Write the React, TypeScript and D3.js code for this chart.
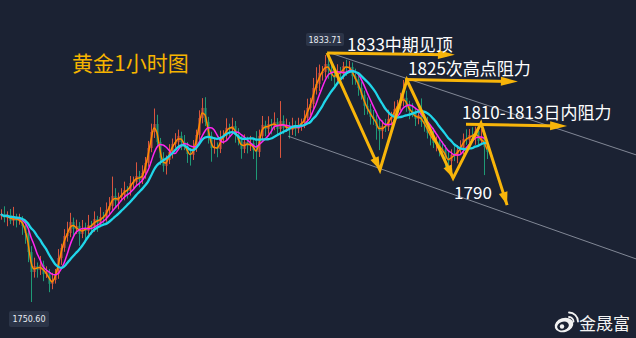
import React from "react";
import * as d3 from "d3";

const W = 636;
const H = 338;

// Hourly gold closes (USD/oz), oldest first
const closes = [
  1780.2, 1778.9, 1779.9, 1777.9, 1779.2, 1777.9, 1778.5, 1776.2, 1773.8, 1767.4,
  1760.7, 1762.7, 1761.4, 1763.1, 1760.0, 1760.7, 1756.7, 1758.0, 1760.0, 1765.4,
  1768.8, 1772.8, 1773.8, 1777.5, 1775.2, 1776.2, 1773.5, 1775.5, 1774.5, 1776.5,
  1775.8, 1778.5, 1777.2, 1779.2, 1778.9, 1781.6, 1782.9, 1786.3, 1784.6, 1785.9,
  1786.6, 1788.3, 1788.0, 1790.6, 1791.0, 1793.0, 1791.7, 1794.0, 1797.4, 1802.4,
  1807.8, 1810.5, 1804.4, 1799.1, 1796.4, 1798.4, 1801.1, 1803.8, 1804.4, 1806.5,
  1804.4, 1803.1, 1800.4, 1800.1, 1802.4, 1806.8, 1812.5, 1815.9, 1811.2, 1806.5,
  1802.4, 1802.8, 1802.1, 1805.8, 1806.5, 1809.2, 1808.8, 1809.8, 1806.8, 1805.1,
  1802.1, 1804.4, 1803.1, 1804.1, 1801.7, 1801.1, 1806.5, 1810.2, 1808.8, 1810.5,
  1809.8, 1811.2, 1808.8, 1811.5, 1809.2, 1809.8, 1808.5, 1809.8, 1808.8, 1810.2,
  1810.8, 1812.5, 1815.9, 1817.2, 1822.6, 1824.0, 1827.7, 1828.0, 1830.7, 1828.7,
  1827.0, 1826.0, 1828.0, 1827.3, 1830.0, 1829.3, 1829.7, 1826.6, 1825.6, 1822.6,
  1820.3, 1816.6, 1815.5, 1812.9, 1812.2, 1809.8, 1808.1, 1809.8, 1809.5, 1812.2,
  1812.9, 1815.5, 1816.6, 1818.2, 1819.3, 1816.6, 1814.9, 1814.2, 1812.2, 1813.5,
  1811.2, 1810.5, 1807.5, 1806.5, 1804.1, 1804.4, 1802.1, 1801.7, 1799.1, 1798.0,
  1800.1, 1799.7, 1801.7, 1802.4, 1805.5, 1805.1, 1806.8, 1806.1, 1808.1, 1804.8,
  1805.8, 1802.8, 1801.1,
];

// Shadow lengths above / below each candle body (USD)
const upperWicks = [
  1.6, 2.6, 1.2, 2.0, 3.4, 1.1, 1.8, 1.0, 1.5, 1.3,
  2.0, 2.8, 1.2, 3.0, 1.4, 1.9, 1.0, 2.4, 1.7, 3.0,
  1.4, 2.3, 3.8, 3.1, 1.5, 2.1, 1.3, 2.7, 1.8, 3.4,
  1.4, 2.6, 1.1, 3.3, 1.7, 2.5, 3.0, 6.5, 2.6, 1.5,
  2.3, 2.8, 1.3, 2.4, 1.8, 4.6, 1.7, 2.6, 2.0, 2.4,
  2.8, 5.2, 3.1, 1.4, 1.9, 1.5, 2.6, 1.8, 3.0, 2.1,
  1.4, 2.4, 1.3, 2.0, 2.7, 1.8, 2.6, 3.3, 3.6, 1.7,
  1.4, 2.9, 1.5, 2.5, 1.9, 3.2, 1.4, 2.8, 1.7, 2.3,
  1.3, 2.6, 1.8, 2.4, 1.4, 6.4, 2.1, 3.0, 1.4, 2.6,
  1.7, 3.2, 1.3, 6.7, 1.9, 2.5, 1.4, 2.8, 1.8, 2.4,
  1.5, 2.6, 3.1, 2.1, 3.4, 5.6, 2.8, 2.0, 3.0, 2.1,
  2.7, 1.9, 2.6, 1.7, 1.4, 2.1, 2.0, 1.5, 2.5, 1.7,
  2.1, 1.4, 2.8, 1.8, 2.3, 1.4, 2.6, 1.9, 2.4, 3.1,
  1.7, 2.6, 2.0, 2.8, 6.0, 2.4, 1.7, 2.6, 1.5, 2.1,
  5.6, 1.8, 2.4, 1.4, 2.7, 1.9, 1.4, 2.6, 1.7, 2.4,
  1.9, 2.9, 1.7, 2.6, 1.8, 3.2, 2.0, 2.6, 1.5, 2.1,
  3.0, 1.4, 1.7,
];
const lowerWicks = [
  1.2, 1.5, 2.8, 1.1, 1.6, 2.2, 1.3, 3.0, 3.6, 3.4,
  10.1, 1.9, 2.6, 1.7, 2.4, 1.3, 2.8, 1.8, 1.2, 1.6,
  2.3, 1.3, 1.9, 1.4, 2.9, 1.7, 4.0, 1.4, 3.2, 1.2,
  2.5, 1.6, 3.0, 1.4, 2.0, 1.3, 1.7, 1.4, 2.2, 2.8,
  1.4, 1.8, 2.6, 1.6, 2.3, 1.2, 2.5, 1.4, 1.9, 1.3,
  1.4, 2.0, 1.7, 2.4, 2.0, 2.9, 1.4, 2.2, 1.3, 1.8,
  2.7, 1.4, 3.0, 3.6, 1.7, 1.3, 1.6, 1.8, 1.4, 2.6,
  4.6, 1.9, 2.8, 1.4, 2.0, 1.3, 2.4, 1.6, 2.6, 1.8,
  3.3, 1.4, 2.5, 1.7, 3.0, 9.4, 1.7, 1.3, 2.4, 1.6,
  2.8, 1.4, 2.3, 9.7, 2.1, 1.4, 2.9, 1.7, 2.4, 1.4,
  2.0, 1.7, 1.4, 2.5, 1.8, 2.2, 2.4, 2.6, 1.9, 3.0,
  2.0, 2.8, 1.4, 2.5, 1.8, 2.6, 1.7, 2.9, 1.9, 2.6,
  1.6, 3.1, 1.8, 2.6, 2.0, 4.6, 6.4, 2.6, 1.7, 1.4,
  2.2, 1.4, 1.9, 1.6, 1.8, 2.0, 2.8, 1.4, 2.4, 1.8,
  1.7, 2.6, 1.9, 3.2, 1.7, 2.8, 2.5, 2.2, 3.9, 3.5,
  2.0, 1.7, 2.4, 1.4, 2.2, 1.6, 1.9, 1.7, 2.6, 1.8,
  1.4, 9.5, 2.4,
];

const firstOpen = 1779.5;
const periodHigh = 1833.71;
const periodLow = 1750.6;

// Moving-average periods: fast, middle, slow
const maPeriods = [2, 6, 12];
const maColors = ["#ff8c00", "#ff26f0", "#20d6ea"];
const maWidths = [1.5, 1.5, 2.3];

// Hand-drawn trend annotations, given as [candle index, price]
const zigzag: [number, number][] = [
  [108.7, 1834.4],
  [126.3, 1795.0],
  [135.3, 1825.3],
  [150.7, 1792.3],
  [160.0, 1810.8],
  [168.7, 1783.2],
];
const channelUpper: [number, number][] = [[109.7, 1834.4], [211.7, 1800.1]];
const channelLower: [number, number][] = [[95.7, 1806.4], [211.7, 1765.1]];

const levelArrows = [
  { from: [108.7, 1834.4], to: [151.3, 1833.8], label: "1833中期见顶", dx: 20, dy: -2 },
  { from: [134.7, 1825.5], to: [172.3, 1824.8], label: "1825次高点阻力", dx: 3, dy: -4 },
  { from: [155.0, 1810.4], to: [188.7, 1809.8], label: "1810-1813日内阻力", dx: -4, dy: -5 },
];
const bottomLabel = { at: [150.7, 1792.3], label: "1790" };

const title = "黄金1小时图";
const brand = "金晟富";

const BG = "#1b2233";
const GOLD = "#f8b50a";
const UP = "#d9553e";
const DOWN = "#1f9a76";
const CJK = "'Noto Sans CJK SC', 'Noto Sans', sans-serif";

function arrowHead(x1: number, y1: number, x2: number, y2: number, len: number, half: number) {
  const a = Math.atan2(y2 - y1, x2 - x1);
  const bx = x2 - len * Math.cos(a);
  const by = y2 - len * Math.sin(a);
  const px = -Math.sin(a) * half;
  const py = Math.cos(a) * half;
  return `M${x2},${y2}L${bx + px},${by + py}L${bx - px},${by - py}Z`;
}

export default function App() {
  const n = closes.length;
  const x = d3.scaleLinear().domain([0, n - 1]).range([1, 487]);
  const y = d3.scaleLinear().domain([periodLow, periodHigh]).range([302, 55]);

  const candles = closes.map((c, i) => {
    const o = i === 0 ? firstOpen : closes[i - 1];
    return {
      i,
      o,
      c,
      h: Math.max(o, c) + upperWicks[i],
      l: Math.min(o, c) - lowerWicks[i],
    };
  });

  const movingAverage = (p: number) =>
    closes.map((_, i) => d3.mean(closes.slice(Math.max(0, i - p + 1), i + 1)) as number);

  const maLine = d3
    .line<number>()
    .x((_, i) => x(i))
    .y((v) => y(v))
    .curve(d3.curveMonotoneX);

  const pt = (p: number[]) => [x(p[0]), y(p[1])] as [number, number];

  const hiIdx = d3.maxIndex(candles, (d) => d.h);
  const loIdx = d3.minIndex(candles, (d) => d.l);

  const zz = zigzag.map(pt);
  const zzPath = d3.line()(zz) as string;

  const cu = channelUpper.map(pt);
  const cl = channelLower.map(pt);

  return (
    <svg
      width={W}
      height={H}
      viewBox={`0 0 ${W} ${H}`}
      style={{ position: "absolute", left: 0, top: 0, display: "block" }}
    >
      <rect width={W} height={H} fill={BG} />

      {/* candlesticks */}
      <g>
        {candles.map((d) => {
          const cx = Math.round(x(d.i));
          const color = d.c >= d.o ? UP : DOWN;
          const top = y(Math.max(d.o, d.c));
          const bh = Math.max(1, Math.abs(y(d.o) - y(d.c)));
          return (
            <g key={d.i}>
              <line x1={cx + 0.5} x2={cx + 0.5} y1={y(d.h)} y2={y(d.l)} stroke={color} strokeWidth={1} />
              <rect x={cx - 0.5} y={top} width={2} height={bh} fill={color} />
            </g>
          );
        })}
      </g>

      {/* moving averages */}
      {maPeriods.map((p, k) => (
        <path
          key={p}
          d={maLine(movingAverage(p)) as string}
          fill="none"
          stroke={maColors[k]}
          strokeWidth={maWidths[k]}
          strokeLinejoin="round"
        />
      ))}

      {/* channel */}
      <line x1={cu[0][0]} y1={cu[0][1]} x2={cu[1][0]} y2={cu[1][1]} stroke="#aeb4c0" strokeOpacity={0.7} strokeWidth={1} />
      <line x1={cl[0][0]} y1={cl[0][1]} x2={cl[1][0]} y2={cl[1][1]} stroke="#aeb4c0" strokeOpacity={0.7} strokeWidth={1} />

      {/* zigzag projection */}
      <path d={zzPath} fill="none" stroke={GOLD} strokeWidth={3} strokeLinejoin="miter" strokeMiterlimit={10} />
      {[1, 3, 5].map((k) => (
        <path
          key={k}
          d={arrowHead(zz[k - 1][0], zz[k - 1][1], zz[k][0], zz[k][1], 13, 4.5)}
          fill={GOLD}
        />
      ))}

      {/* level arrows and labels */}
      {levelArrows.map((a) => {
        const [x1, y1] = pt(a.from);
        const [x2, y2] = pt(a.to);
        return (
          <g key={a.label}>
            <line x1={x1} y1={y1} x2={x2 - 8} y2={y2} stroke={GOLD} strokeWidth={3} />
            <path d={arrowHead(x1, y1, x2, y2, 17, 4.5)} fill={GOLD} />
            <text
              x={x1 + a.dx}
              y={y1 + a.dy}
              fill="#ffffff"
              fontSize={17}
              fontFamily={CJK}
            >
              {a.label}
            </text>
          </g>
        );
      })}
      <text
        x={pt(bottomLabel.at)[0] + 1}
        y={pt(bottomLabel.at)[1] + 21}
        fill="#ffffff"
        fontSize={17}
        fontFamily={CJK}
      >
        {bottomLabel.label}
      </text>

      {/* extreme price tags */}
      <g transform={`translate(${x(hiIdx) - 19},${y(candles[hiIdx].h) - 22})`}>
        <rect width={38} height={13} rx={2} fill="#2c3548" />
        <text x={19} y={9.5} textAnchor="middle" fill="#e8ecf2" fontSize={8} fontFamily="'DejaVu Sans', sans-serif">
          {periodHigh.toFixed(2)}
        </text>
      </g>
      <g transform={`translate(${x(loIdx) - 22},${y(candles[loIdx].l) + 9})`}>
        <rect width={40} height={16} rx={2} fill="#2c3548" />
        <text x={20} y={11} textAnchor="middle" fill="#e8ecf2" fontSize={8} fontFamily="'DejaVu Sans', sans-serif">
          {periodLow.toFixed(2)}
        </text>
      </g>

      {/* title */}
      <text x={72} y={71} fill="#f6b400" fontSize={21} fontFamily={CJK}>
        {title}
      </text>

      {/* brand mark */}
      <g>
        <ellipse cx={564} cy={325} rx={9.5} ry={7} fill="#f2f2f2" transform="rotate(-18 564 325)" />
        <ellipse cx={563} cy={326} rx={6} ry={4.3} fill={BG} transform="rotate(-18 563 326)" />
        <circle cx={562} cy={326.5} r={2.2} fill="#f2f2f2" />
        <path d="M569,317 A4.5,4.5 0 0 1 573.5,321.5" fill="none" stroke="#f2f2f2" strokeWidth={1.8} strokeLinecap="round" />
        <path d="M569,312.5 A9,9 0 0 1 578,321.5" fill="none" stroke="#f2f2f2" strokeWidth={1.8} strokeLinecap="round" />
        <text x={579} y={330} fill="#f2f2f2" fontSize={17} fontFamily={CJK}>
          {brand}
        </text>
      </g>
    </svg>
  );
}
